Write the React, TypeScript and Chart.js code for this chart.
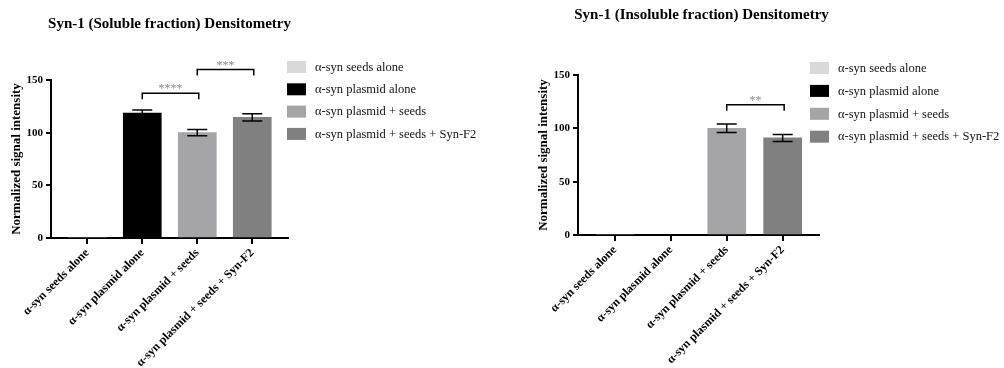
import React, { useEffect, useRef } from "react";
import { Chart, registerables } from "chart.js";

Chart.register(...registerables);

const FONT = "'Liberation Serif', 'Times New Roman', serif";

// ---- shared data ----
const categories = [
  "α-syn seeds alone",
  "α-syn plasmid alone",
  "α-syn plasmid + seeds",
  "α-syn plasmid + seeds + Syn-F2",
];
const barColors = ["#d9d9d9", "#000000", "#a5a5a8", "#808080"];
const yAxisTitle = "Normalized signal intensity";
const yMin = 0;
const yMax = 150;
const yStep = 50;

// ---- soluble fraction ----
const solubleTitle = "Syn-1 (Soluble fraction) Densitometry";
const solubleValues = [0, 118.5, 100, 114.5];
const solubleErrors = [0, 3, 3, 3.5];
const solubleSigPairs = [
  [1, 2],
  [2, 3],
];
const solubleSigHeights = [137.5, 160];
const solubleSigLabels = ["****", "***"];

// ---- insoluble fraction ----
const insolubleTitle = "Syn-1 (Insoluble fraction) Densitometry";
const insolubleValues = [0, 0, 100, 91];
const insolubleErrors = [0, 0, 4, 3.3];
const insolubleSigPairs = [[2, 3]];
const insolubleSigHeights = [122];
const insolubleSigLabels = ["**"];

const overlayPlugin = {
  id: "overlay",
  afterDraw(chart: any, _args: any, opts: any) {
    const ctx = chart.ctx;
    const xs = chart.scales.x;
    const ys = chart.scales.y;
    const area = chart.chartArea;
    const ds = chart.data.datasets[0];
    ctx.save();

    // error bars
    ctx.strokeStyle = "#000";
    ctx.lineWidth = 1.5;
    ds.data.forEach((pt: any, i: number) => {
      const e = opts.errors[i];
      if (!e) return;
      const px = xs.getPixelForValue(pt.x);
      const top = ys.getPixelForValue(pt.y + e);
      const bot = ys.getPixelForValue(pt.y - e);
      ctx.beginPath();
      ctx.moveTo(px, top);
      ctx.lineTo(px, bot);
      ctx.moveTo(px - 10, top);
      ctx.lineTo(px + 10, top);
      ctx.moveTo(px - 10, bot);
      ctx.lineTo(px + 10, bot);
      ctx.stroke();
    });

    // significance brackets
    opts.sigPairs.forEach((pair: number[], k: number) => {
      const x1 = xs.getPixelForValue(pair[0]);
      const x2 = xs.getPixelForValue(pair[1]) + 1.5;
      const yy = ys.getPixelForValue(opts.sigHeights[k]);
      ctx.strokeStyle = "#000";
      ctx.lineWidth = 1.5;
      ctx.beginPath();
      ctx.moveTo(x1, yy + 6);
      ctx.lineTo(x1, yy);
      ctx.lineTo(x2, yy);
      ctx.lineTo(x2, yy + 6);
      ctx.stroke();
      ctx.fillStyle = "#8a8a8a";
      ctx.font = `12px ${FONT}`;
      ctx.textAlign = "center";
      ctx.textBaseline = "middle";
      ctx.fillText(opts.sigLabels[k], (x1 + x2) / 2, yy - 4);
    });

    // legend
    ctx.font = `12.5px ${FONT}`;
    ctx.textAlign = "left";
    ctx.textBaseline = "middle";
    opts.legendLabels.forEach((lab: string, i: number) => {
      const y0 = opts.legendY + i * opts.legendGap;
      ctx.fillStyle = ds.backgroundColor[i];
      ctx.fillRect(opts.legendX, y0, 19, 12);
      ctx.fillStyle = "#111";
      ctx.fillText(lab, opts.legendX + 28, y0 + 6.5);
    });

    // title
    ctx.font = `bold 15px ${FONT}`;
    ctx.fillStyle = "#000";
    ctx.textAlign = "center";
    ctx.textBaseline = "middle";
    ctx.fillText(opts.title, (area.left + area.right) / 2 + opts.titleDx, opts.titleY);

    ctx.restore();
  },
};

function makeConfig(p: {
  values: number[];
  errors: number[];
  sigPairs: number[][];
  sigHeights: number[];
  sigLabels: string[];
  title: string;
  titleY: number;
  titleDx: number;
  padding: any;
  xHeight: number;
  legendX: number;
  legendY: number;
  legendGap: number;
}): any {
  return {
    type: "bar",
    data: {
      labels: categories,
      datasets: [
        {
          label: "values",
          data: p.values.map((v, i) => ({ x: i, y: v })),
          backgroundColor: barColors,
          borderWidth: 0,
          barThickness: 38,
        },
      ],
    },
    plugins: [overlayPlugin],
    options: {
      responsive: false,
      animation: false,
      devicePixelRatio: 1,
      layout: { padding: p.padding },
      plugins: {
        legend: { display: false },
        tooltip: { enabled: false },
        title: { display: false },
        overlay: {
          errors: p.errors,
          sigPairs: p.sigPairs,
          sigHeights: p.sigHeights,
          sigLabels: p.sigLabels,
          legendLabels: categories,
          legendX: p.legendX,
          legendY: p.legendY,
          legendGap: p.legendGap,
          title: p.title,
          titleY: p.titleY,
          titleDx: p.titleDx,
        },
      },
      scales: {
        x: {
          type: "linear",
          min: -0.66,
          max: 3.65,
          bounds: "data",
          offset: false,
          afterBuildTicks: (scale: any) => {
            scale.ticks = categories.map((_, i) => ({ value: i }));
          },
          afterFit: (scale: any) => {
            scale.height = p.xHeight;
          },
          grid: {
            offset: false,
            drawOnChartArea: false,
            drawTicks: true,
            tickLength: 6,
            color: "#000",
            lineWidth: 2,
          },
          border: { display: true, color: "#000", width: 2 },
          ticks: {
            autoSkip: false,
            minRotation: 45,
            maxRotation: 45,
            padding: 2,
            color: "#000",
            font: { family: FONT, size: 12, weight: "bold" },
            callback: (v: any) => categories[v] ?? "",
          },
        },
        y: {
          min: yMin,
          max: yMax,
          afterFit: (scale: any) => {
            scale.width = 51;
          },
          grid: {
            drawOnChartArea: false,
            drawTicks: true,
            tickLength: 5,
            color: "#000",
            lineWidth: 2,
          },
          border: { display: true, color: "#000", width: 2 },
          ticks: {
            stepSize: yStep,
            padding: 3,
            color: "#000",
            font: { family: FONT, size: 11, weight: "bold" },
          },
          title: {
            display: true,
            text: yAxisTitle,
            color: "#000",
            font: { family: FONT, size: 13, weight: "bold" },
            padding: { top: 9, bottom: 0 },
          },
        },
      },
    },
  };
}

function ChartCanvas({ config, left }: { config: any; left: number }) {
  const ref = useRef<HTMLCanvasElement | null>(null);
  useEffect(() => {
    if (!ref.current) return;
    const chart = new Chart(ref.current, config);
    return () => chart.destroy();
  }, [config]);
  return (
    <canvas
      ref={ref}
      width={502}
      height={368}
      style={{ position: "absolute", left, top: 0, width: 502, height: 368 }}
    />
  );
}

const solubleConfig = makeConfig({
  values: solubleValues,
  errors: solubleErrors,
  sigPairs: solubleSigPairs,
  sigHeights: solubleSigHeights,
  sigLabels: solubleSigLabels,
  title: solubleTitle,
  titleY: 24,
  titleDx: 0,
  padding: { left: 0, top: 80, right: 214, bottom: 0 },
  xHeight: 130,
  legendX: 287,
  legendY: 61,
  legendGap: 22.3,
});

const insolubleConfig = makeConfig({
  values: insolubleValues,
  errors: insolubleErrors,
  sigPairs: insolubleSigPairs,
  sigHeights: insolubleSigHeights,
  sigLabels: insolubleSigLabels,
  title: insolubleTitle,
  titleY: 15,
  titleDx: 3,
  padding: { left: 25, top: 75, right: 185, bottom: 0 },
  xHeight: 133,
  legendX: 308,
  legendY: 62,
  legendGap: 22.9,
});

export default function App() {
  return (
    <div
      style={{
        position: "absolute",
        left: 0,
        top: 0,
        width: 1004,
        height: 368,
        background: "#fff",
        overflow: "hidden",
      }}
    >
      <ChartCanvas config={solubleConfig} left={0} />
      <ChartCanvas config={insolubleConfig} left={502} />
    </div>
  );
}
